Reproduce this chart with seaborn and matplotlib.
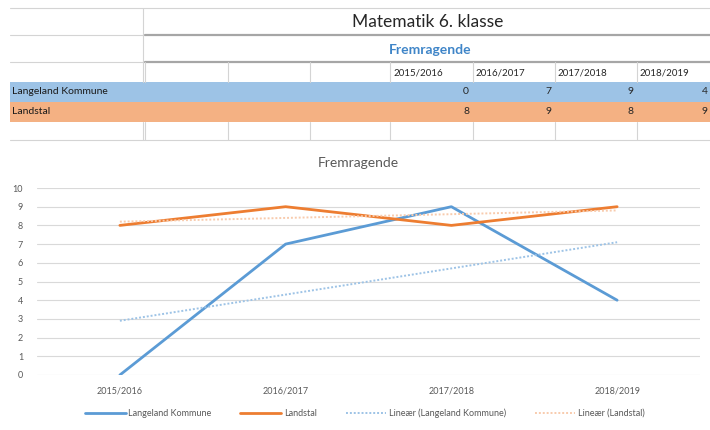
import numpy as np
import pandas as pd
import seaborn as sns
import matplotlib.pyplot as plt
from matplotlib.patches import Rectangle

# data
years = ["2015/2016", "2016/2017", "2017/2018", "2018/2019"]
langeland = [0, 7, 9, 4]
landstal = [8, 9, 8, 9]
series_names = ["Langeland Kommune", "Landstal"]
sheet_title = "Matematik 6. klasse"
chart_title = "Fremragende"

blue = "#5B9BD5"
orange = "#ED7D31"
grey_txt = "#595959"

sns.set_style("white")
plt.rcParams["font.family"] = ["Lato", "DejaVu Sans"]

fig = plt.figure(figsize=(7.1, 4.3), dpi=100)

# ---- spreadsheet part (pixel coords) ----
tab = fig.add_axes([0, 0, 1, 1])
tab.set_xlim(0, 710)
tab.set_ylim(430, 0)
tab.axis("off")

grid_c = "#D4D4D4"
cols = [145, 228, 310, 390, 473, 555, 637, 719]
# horizontal sheet lines
for y in [8, 140]:
    tab.plot([10, 710], [y, y], color=grid_c, lw=0.8)
for y in [35, 62]:
    tab.plot([10, 145], [y, y], color=grid_c, lw=0.8)
    tab.plot([145, 710], [y, y], color="#A6A6A6", lw=1.6)
tab.plot([143, 143], [8, 82], color=grid_c, lw=0.8)
for x in cols[:-1]:
    tab.plot([x, x], [62, 82], color=grid_c, lw=0.8)
    tab.plot([x, x], [122, 140], color=grid_c, lw=0.8)
tab.plot([143, 143], [122, 140], color=grid_c, lw=0.8)

# coloured rows
tab.add_patch(Rectangle((10, 82), 700, 20, color="#9DC3E6", lw=0))
tab.add_patch(Rectangle((10, 102), 700, 20, color="#F4B183", lw=0))

tab.text(428, 22, sheet_title, ha="center", va="center", fontsize=12.5, color="#262626")
tab.text(430, 50, chart_title, ha="center", va="center", fontsize=10,
         color="#3F85C8", fontweight="bold")

for i, yr in enumerate(years):
    right = min(cols[4 + i] - 4, 708)
    tab.text(cols[3 + i] + 3, 73, yr, ha="left", va="center", fontsize=7, color="#262626")
    tab.text(right, 92, str(langeland[i]), ha="right", va="center",
             fontsize=7.5, color="#262626")
    tab.text(right, 112, str(landstal[i]), ha="right", va="center",
             fontsize=7.5, color="#262626")
tab.text(12, 92, series_names[0], ha="left", va="center", fontsize=7.5, color="#1a1a1a")
tab.text(12, 112, series_names[1], ha="left", va="center", fontsize=7.5, color="#1a1a1a")

# ---- chart ----
ax = fig.add_axes([37 / 710, 55 / 430, 663 / 710, 187 / 430])
x = np.arange(len(years))

sns.lineplot(x=x, y=langeland, color=blue, lw=2.0, label=series_names[0], ax=ax)
sns.lineplot(x=x, y=landstal, color=orange, lw=2.0, label=series_names[1], ax=ax)
# Excel style linear trendlines
sns.regplot(x=x, y=langeland, ci=None, scatter=False, ax=ax,
            label="Lineær (" + series_names[0] + ")",
            line_kws=dict(color="#9DC3E6", lw=1.4, ls=(0, (1, 1))))
sns.regplot(x=x, y=landstal, ci=None, scatter=False, ax=ax,
            label="Lineær (" + series_names[1] + ")",
            line_kws=dict(color="#F8CBAD", lw=1.4, ls=(0, (1, 1))))

ax.set_xlim(-0.5, len(years) - 0.5)
ax.set_ylim(0, 10)
ax.set_yticks(range(0, 11))
ax.set_xticks(x)
ax.set_xticklabels(years)
ax.set_xlabel("")
ax.set_ylabel("")
ax.tick_params(axis="both", length=0, labelsize=6.5, colors=grey_txt)
ax.tick_params(axis="y", pad=10)
ax.tick_params(axis="x", pad=8)
ax.yaxis.grid(True, color="#D9D9D9", lw=0.8)
ax.set_axisbelow(True)
for s in ax.spines.values():
    s.set_visible(False)
ax.patch.set_alpha(0)

fig.text(358 / 710, 1 - 163 / 430, chart_title, ha="center", va="center",
         fontsize=10, color=grey_txt)

handles, labels = ax.get_legend_handles_labels()
if ax.get_legend() is not None:
    ax.get_legend().remove()
fig.legend(handles, labels, loc="center", bbox_to_anchor=(0.514, 17 / 430), ncol=4,
           frameon=False, fontsize=6.5, handlelength=4.5, columnspacing=3.2,
           labelcolor=grey_txt, handletextpad=0.3)

fig.savefig("out.png", dpi=100)
